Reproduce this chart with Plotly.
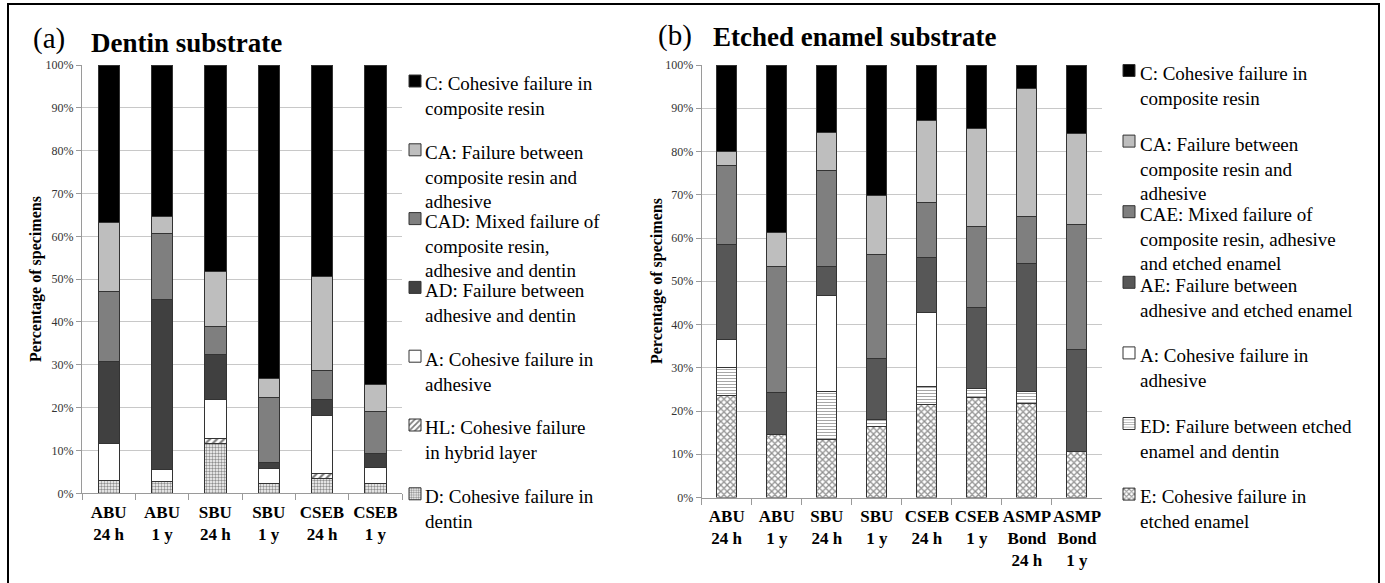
import plotly.graph_objects as go

W, H = 1385, 583
SERIF = "Liberation Serif, Times New Roman, serif"

# ---------------- data ----------------
dentin_groups = ["ABU<br>24 h", "ABU<br>1 y", "SBU<br>24 h", "SBU<br>1 y", "CSEB<br>24 h", "CSEB<br>1 y"]
dentin_D = [2.9, 2.8, 11.6, 2.4, 3.4, 2.2]
dentin_HL = [0, 0, 1.3, 0, 1.3, 0]
dentin_A = [8.7, 2.7, 9.1, 3.3, 13.5, 3.9]
dentin_AD = [19.2, 39.8, 10.5, 1.4, 3.7, 3.3]
dentin_CAD = [16.4, 15.4, 6.5, 15.3, 6.8, 9.8]
dentin_CA = [16.0, 4.0, 12.9, 4.4, 22.0, 6.2]
dentin_C = [36.8, 35.3, 48.1, 73.2, 49.3, 74.6]

enamel_groups = ["ABU<br>24 h", "ABU<br>1 y", "SBU<br>24 h", "SBU<br>1 y", "CSEB<br>24 h", "CSEB<br>1 y",
                 "ASMP<br>Bond<br>24 h", "ASMP<br>Bond<br>1 y"]
enamel_E = [23.5, 14.6, 13.5, 16.4, 21.4, 23.2, 21.8, 10.6]
enamel_ED = [6.6, 0, 11.0, 1.7, 4.3, 2.0, 2.7, 0]
enamel_A = [6.5, 0, 22.2, 0, 17.0, 0, 0, 0]
enamel_AE = [21.8, 9.7, 6.8, 14.1, 12.9, 18.7, 29.7, 23.7]
enamel_CAE = [18.4, 29.1, 22.2, 24.0, 12.7, 18.7, 10.7, 28.9]
enamel_CA = [3.2, 7.9, 8.7, 13.7, 18.8, 22.7, 29.7, 20.9]
enamel_C = [20.0, 38.7, 15.6, 30.1, 12.9, 14.7, 5.4, 15.9]

dentin_labels = {
    "C": "C: Cohesive failure in<br>composite resin",
    "CA": "CA: Failure between<br>composite resin and<br>adhesive",
    "CAD": "CAD: Mixed failure of<br>composite resin,<br>adhesive and dentin",
    "AD": "AD: Failure between<br>adhesive and dentin",
    "A": "A: Cohesive failure in<br>adhesive",
    "HL": "HL: Cohesive failure<br>in hybrid layer",
    "D": "D: Cohesive failure in<br>dentin",
}
enamel_labels = {
    "C": "C: Cohesive failure in<br>composite resin",
    "CA": "CA: Failure between<br>composite resin and<br>adhesive",
    "CAE": "CAE: Mixed failure of<br>composite resin, adhesive<br>and etched enamel",
    "AE": "AE: Failure between<br>adhesive and etched enamel",
    "A": "A: Cohesive failure in<br>adhesive",
    "ED": "ED: Failure between etched<br>enamel and dentin",
    "E": "E: Cohesive failure in<br>etched enamel",
}

# ---------------- styles ----------------
styles = {
    "C": dict(color="#000000"),
    "CA": dict(color="#bebebe"),
    "CAD": dict(color="#7f7f7f"),
    "CAE": dict(color="#7f7f7f"),
    "AD": dict(color="#404040"),
    "AE": dict(color="#575757"),
    "A": dict(color="#ffffff"),
    "HL": dict(color="#ffffff", pattern=dict(shape="/", size=5, solidity=0.45, fgcolor="#000000")),
    "D": dict(color="#ffffff", pattern=dict(shape=".", size=3, solidity=0.5, fgcolor="#202020")),
    "ED": dict(color="#ffffff", pattern=dict(shape="-", size=3, solidity=0.35, fgcolor="#505050")),
    "E": dict(color="#ffffff", pattern=dict(shape="x", size=4.5, solidity=0.5, fgcolor="#202020")),
}

def px_x(v):
    return v / W

def px_y(v):
    return 1 - v / H

fig = go.Figure()

dentin_series = [("D", dentin_D), ("HL", dentin_HL), ("A", dentin_A), ("AD", dentin_AD),
                 ("CAD", dentin_CAD), ("CA", dentin_CA), ("C", dentin_C)]
enamel_series = [("E", enamel_E), ("ED", enamel_ED), ("A", enamel_A), ("AE", enamel_AE),
                 ("CAE", enamel_CAE), ("CA", enamel_CA), ("C", enamel_C)]

# legend geometry (pixels)
dentin_leg_x_sw, dentin_leg_x_txt, dentin_leg_y0, dentin_leg_dy = 415, 423, 84, 68.8
enamel_leg_x_sw, enamel_leg_x_txt, enamel_leg_y0, enamel_leg_dy = 1129, 1138, 73.5, 70.6
dentin_order = ["C", "CA", "CAD", "AD", "A", "HL", "D"]
enamel_order = ["C", "CA", "CAE", "AE", "A", "ED", "E"]

legend_layouts = {}
annotations = []
LEG_FONT = 19
LH = 1.3 * LEG_FONT
leg_idx = 1

def add_legend_entry(key, label, x_sw, x_txt, y_line):
    global leg_idx
    leg_idx += 1
    name = f"legend{leg_idx}"
    legend_layouts[name] = dict(
        x=px_x(x_sw - 20), y=px_y(y_line - 3), xanchor="left", yanchor="middle",
        bgcolor="rgba(0,0,0,0)", borderwidth=0,
        font=dict(size=1, color="rgba(0,0,0,0)"), itemwidth=30,
    )
    n = label.count("<br>") + 1
    annotations.append(dict(
        x=px_x(x_txt), y=px_y(y_line + (n - 1) * LH / 2), xref="paper", yref="paper",
        xanchor="left", yanchor="middle", align="left", showarrow=False,
        text=label, font=dict(family=SERIF, size=LEG_FONT, color="#000000"),
    ))
    return name

for key, vals in dentin_series:
    st = styles[key]
    i = dentin_order.index(key)
    lg = add_legend_entry(key, dentin_labels[key], dentin_leg_x_sw, dentin_leg_x_txt,
                          dentin_leg_y0 + i * dentin_leg_dy)
    fig.add_trace(go.Bar(
        x=dentin_groups, y=vals, name=key, xaxis="x", yaxis="y", legend=lg,
        marker=dict(color=st["color"], line=dict(color="#333333", width=1),
                    pattern=st.get("pattern", dict(shape=""))),
        hovertemplate=dentin_labels[key].replace("<br>", " ") + ": %{y:.1f}%<extra></extra>",
    ))

for key, vals in enamel_series:
    st = styles[key]
    i = enamel_order.index(key)
    lg = add_legend_entry(key, enamel_labels[key], enamel_leg_x_sw, enamel_leg_x_txt,
                          enamel_leg_y0 + i * enamel_leg_dy)
    fig.add_trace(go.Bar(
        x=enamel_groups, y=vals, name=key, xaxis="x2", yaxis="y2", legend=lg,
        marker=dict(color=st["color"], line=dict(color="#333333", width=1),
                    pattern=st.get("pattern", dict(shape=""))),
        hovertemplate=enamel_labels[key].replace("<br>", " ") + ": %{y:.1f}%<extra></extra>",
    ))

# ---------------- titles ----------------
annotations += [
    dict(x=px_x(31), y=px_y(38), xref="paper", yref="paper", xanchor="left", yanchor="middle",
         showarrow=False, text="(a)", font=dict(family=SERIF, size=29, color="#000")),
    dict(x=px_x(89), y=px_y(43), xref="paper", yref="paper", xanchor="left", yanchor="middle",
         showarrow=False, text="<b>Dentin substrate</b>", font=dict(family=SERIF, size=27, color="#000")),
    dict(x=px_x(656), y=px_y(36), xref="paper", yref="paper", xanchor="left", yanchor="middle",
         showarrow=False, text="(b)", font=dict(family=SERIF, size=29, color="#000")),
    dict(x=px_x(711), y=px_y(37), xref="paper", yref="paper", xanchor="left", yanchor="middle",
         showarrow=False, text="<b>Etched enamel substrate</b>", font=dict(family=SERIF, size=27, color="#000")),
    dict(x=px_x(36), y=px_y(279), xref="paper", yref="paper", xanchor="center", yanchor="middle",
         showarrow=False, textangle=-90, text="<b>Percentage of specimens</b>",
         font=dict(family=SERIF, size=16, color="#000")),
    dict(x=px_x(657), y=px_y(281), xref="paper", yref="paper", xanchor="center", yanchor="middle",
         showarrow=False, textangle=-90, text="<b>Percentage of specimens</b>",
         font=dict(family=SERIF, size=16, color="#000")),
]

xcommon = dict(type="category", showline=True, linecolor="#9a9a9a", linewidth=1,
               ticks="outside", tickson="boundaries", ticklen=6, tickcolor="#9a9a9a",
               tickfont=dict(family=SERIF, size=17, color="#000", weight="bold"),
               tickangle=0, automargin=False,
               showgrid=False, zeroline=False, fixedrange=True, ticklabelstandoff=3)
ycommon = dict(range=[0, 100], dtick=10, ticksuffix="%", showline=True, linecolor="#9a9a9a",
               linewidth=1, ticks="outside", ticklen=5, tickcolor="#9a9a9a",
               tickfont=dict(family=SERIF, size=12, color="#333"), automargin=False,
               showgrid=True, gridcolor="#c8c8c8", gridwidth=1, zeroline=False, fixedrange=True)

fig.update_layout(
    width=W, height=H, margin=dict(l=0, r=0, t=0, b=0, autoexpand=False),
    paper_bgcolor="#ffffff", plot_bgcolor="#ffffff",
    barmode="stack", bargap=0.6,
    font=dict(family=SERIF, color="#000"),
    xaxis=dict(domain=[px_x(82), px_x(402)], anchor="y", **xcommon),
    yaxis=dict(domain=[px_y(493.3), px_y(65)], anchor="x", **ycommon),
    xaxis2=dict(domain=[px_x(701.7), px_x(1102)], anchor="y2", **xcommon),
    yaxis2=dict(domain=[px_y(497.5), px_y(65)], anchor="x2", **ycommon),
    annotations=annotations,
    shapes=[dict(type="rect", xref="paper", yref="paper", x0=px_x(8), x1=px_x(1379),
                 y0=px_y(600), y1=px_y(4), line=dict(color="#000", width=2), layer="above")],
    **legend_layouts,
)

fig.write_html("out.html", config={"displayModeBar": False},
               post_script="document.body.style.margin='0px';")
